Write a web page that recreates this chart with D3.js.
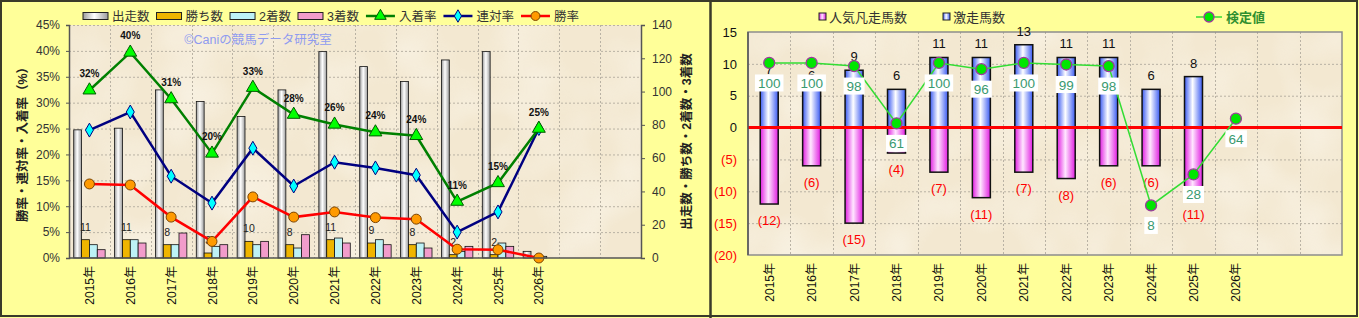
<!DOCTYPE html>
<html>
<head>
<meta charset="utf-8">
<title>Cani 競馬データ</title>
<script src="https://cdn.jsdelivr.net/npm/d3@7"></script>
<style>
  body { margin: 0; background: #fff; overflow: hidden; }
  svg text { font-family: "Liberation Sans", "Noto Sans CJK JP", sans-serif; }
  .grid line { stroke: #b9b2a4; stroke-width: 1; stroke-dasharray: 2,2; }
  .tick-l { font-size: 12px; fill: #333; }
  .xlab { font-size: 12px; fill: #111; }
</style>
</head>
<body>
<div id="chart"></div>
<script>
// ---- data ----
var years = ["2015年","2016年","2017年","2018年","2019年","2020年","2021年","2022年","2023年","2024年","2025年","2026年"];
var nSlots = 14; // the axis keeps two empty categories after 2026

// left chart: counts (right axis)
var starts  = [77, 78, 101, 94, 85, 101, 124, 115, 106, 119, 124, 4];
var wins    = [11, 11, 8, 3, 10, 8, 11, 9, 8, 2, 2, 0];
var seconds = [8, 11, 8, 7, 8, 6, 12, 11, 9, 4, 9, 1];
var thirds  = [5, 9, 15, 8, 10, 14, 9, 8, 6, 7, 7, 0];
// left chart: rates % (left axis)
var placeRate = [32.4, 39.7, 30.7, 20.2, 32.9, 27.7, 25.8, 24.3, 23.6, 10.9, 14.5, 25.0];
var rentaiRate = [24.7, 28.2, 15.8, 10.6, 21.2, 13.9, 18.5, 17.4, 16.0, 5.0, 8.9, 25.0];
var winRate = [14.3, 14.1, 7.9, 3.2, 11.8, 7.9, 8.9, 7.8, 7.5, 1.7, 1.6, 0];
var pctTicks = [0, 5, 10, 15, 20, 25, 30, 35, 40, 45];
var cntTicks = [0, 20, 40, 60, 80, 100, 120, 140];

// right chart
var gekiso = [7, 6, 9, 6, 11, 11, 13, 11, 11, 6, 8, null];
var bonso  = [12, 6, 15, 4, 7, 11, 7, 8, 6, 6, 11, null];
var kentei = [100, 100, 98, 61, 100, 96, 100, 99, 98, 8, 28, 64];
var rTicks = [-20, -15, -10, -5, 0, 5, 10, 15];

var W = 1359, H = 318;
var svg = d3.select("#chart").append("svg").attr("width", W).attr("height", H);
var defs = svg.append("defs");

function hGrad(id, edge, mid) {
  var g = defs.append("linearGradient").attr("id", id).attr("x1", 0).attr("x2", 1).attr("y1", 0).attr("y2", 0);
  g.append("stop").attr("offset", "0%").attr("stop-color", edge);
  g.append("stop").attr("offset", "45%").attr("stop-color", mid);
  g.append("stop").attr("offset", "100%").attr("stop-color", edge);
}
hGrad("gStart", "#9c9c9c", "#ffffff");
hGrad("gBlue", "#3a5af2", "#ffffff");
hGrad("gPink", "#e11ee1", "#ffe6ff");

// parchment texture
var f = defs.append("filter").attr("id", "paper").attr("x", 0).attr("y", 0).attr("width", "100%").attr("height", "100%");
f.append("feTurbulence").attr("type", "fractalNoise").attr("baseFrequency", "0.018").attr("numOctaves", 2).attr("seed", 4);
f.append("feColorMatrix").attr("values", "0 0 0 0 1  0 0 0 0 0.99  0 0 0 0 0.95  1.4 0 0 0 -0.55");

// panels
svg.append("rect").attr("x", 0).attr("y", 0).attr("width", W).attr("height", H).attr("fill", "#ffff99");

function plotBg(x0, y0, x1, y1) {
  svg.append("rect").attr("x", x0).attr("y", y0).attr("width", x1 - x0).attr("height", y1 - y0).attr("fill", "#f3e8d1");
  svg.append("rect").attr("x", x0).attr("y", y0).attr("width", x1 - x0).attr("height", y1 - y0)
    .attr("filter", "url(#paper)").attr("opacity", 0.6);
}

// =============== LEFT CHART ===============
var L = {x0: 69, x1: 641, y0: 25, y1: 258};
plotBg(L.x0, L.y0, L.x1, L.y1);

var xL = d3.scaleBand().domain(d3.range(nSlots)).range([L.x0, L.x1]);
var xSub = d3.scaleBand().domain(["s", "w", "2", "3"]).range([0, xL.bandwidth()]).paddingOuter(0.6);
var yPct = d3.scaleLinear().domain([0, 45]).range([L.y1, L.y0]);
var yCnt = d3.scaleLinear().domain([0, 140]).range([L.y1, L.y0]);

var gridL = svg.append("g").attr("class", "grid");
gridL.selectAll(".h").data(pctTicks.slice(1)).enter().append("line")
  .attr("x1", L.x0).attr("x2", L.x1).attr("y1", d => yPct(d) + 0.5).attr("y2", d => yPct(d) + 0.5);
gridL.selectAll(".v").data(d3.range(1, nSlots)).enter().append("line")
  .attr("y1", L.y0).attr("y2", L.y1).attr("x1", d => Math.round(xL(d)) + 0.5).attr("x2", d => Math.round(xL(d)) + 0.5);

// watermark
svg.append("text").attr("x", 258).attr("y", 44).attr("text-anchor", "middle")
  .style("font-size", "12.5px").attr("fill", "#8f9bf0").text("©Caniの競馬データ研究室");

// bars
var barSeries = [
  {key: "s", vals: starts, fill: "url(#gStart)"},
  {key: "w", vals: wins, fill: "#efb500"},
  {key: "2", vals: seconds, fill: "#bdf2f6"},
  {key: "3", vals: thirds, fill: "#f29ccb"}
];
barSeries.forEach(function (s) {
  svg.append("g").selectAll("rect").data(s.vals).enter().append("rect")
    .attr("x", (d, i) => xL(i) + xSub(s.key))
    .attr("width", xSub.bandwidth())
    .attr("y", d => yCnt(d))
    .attr("height", d => yCnt(0) - yCnt(d))
    .attr("fill", s.fill).attr("stroke", "#111").attr("stroke-width", 0.8);
});
// wins labels
svg.append("g").selectAll("text").data(wins).enter().append("text")
  .attr("x", (d, i) => xL(i) + xSub("w") + xSub.bandwidth() / 2)
  .attr("y", d => yCnt(d) - 9)
  .attr("text-anchor", "middle").style("font-size", "10.5px").attr("fill", "#222")
  .text(d => d > 0 ? d : "");

// lines
var cx = i => xL(i) + xL.bandwidth() / 2;
var lineSeries = [
  {vals: winRate, color: "#ff0000", sym: d3.symbolCircle, size: 78, fill: "#ff9a00", stroke: "#7a4300"},
  {vals: rentaiRate, color: "#000080", sym: d3.symbolDiamond, size: 56, fill: "#00ffff", stroke: "#000080"},
  {vals: placeRate, color: "#008000", sym: d3.symbolTriangle, size: 72, fill: "#00ff00", stroke: "#005a00"}
];
lineSeries.forEach(function (s) {
  var line = d3.line().x((d, i) => cx(i)).y(d => yPct(d));
  svg.append("path").datum(s.vals).attr("d", line).attr("fill", "none")
    .attr("stroke", s.color).attr("stroke-width", 2.5);
});
lineSeries.forEach(function (s) {
  svg.append("g").selectAll("path").data(s.vals).enter().append("path")
    .attr("d", d3.symbol().type(s.sym).size(s.size))
    .attr("transform", (d, i) => "translate(" + cx(i) + "," + yPct(d) + ")")
    .attr("fill", s.fill).attr("stroke", s.stroke).attr("stroke-width", 1);
});
svg.append("g").selectAll("text").data(placeRate).enter().append("text")
  .attr("x", (d, i) => cx(i)).attr("y", d => yPct(d) - 13)
  .attr("text-anchor", "middle").style("font-size", "10px").style("font-weight", "bold").attr("fill", "#111")
  .text(d => d3.format(".0f")(d) + "%");

// axes
var axL = svg.append("g").attr("transform", "translate(" + L.x0 + ",0)")
  .call(d3.axisLeft(yPct).tickValues(pctTicks).tickSize(3).tickFormat(d => d + "%"));
axL.select(".domain").attr("stroke", "#555").attr("stroke-width", 1.5);
axL.selectAll(".tick line").attr("stroke", "#555");
axL.selectAll("text").attr("class", "tick-l").attr("x", -9);

var axR = svg.append("g").attr("transform", "translate(" + L.x1 + ",0)")
  .call(d3.axisRight(yCnt).tickValues(cntTicks).tickSize(4));
axR.select(".domain").attr("stroke", "#555").attr("stroke-width", 1.5);
axR.selectAll(".tick line").attr("stroke", "#555");
axR.selectAll("text").attr("class", "tick-l").attr("x", 11);

svg.append("line").attr("x1", L.x0).attr("x2", L.x1).attr("y1", L.y1).attr("y2", L.y1)
  .attr("stroke", "#555").attr("stroke-width", 1.5);

svg.append("g").selectAll("text").data(years).enter().append("text")
  .attr("class", "xlab").attr("text-anchor", "end")
  .attr("transform", (d, i) => "translate(" + (cx(i) + 4.5) + "," + (L.y1 + 8) + ") rotate(-90)")
  .text(d => d);

svg.append("text").attr("text-anchor", "middle")
  .attr("transform", "translate(27," + ((L.y0 + L.y1) / 2) + ") rotate(-90)")
  .style("font-size", "12.5px").style("font-weight", "bold").attr("fill", "#222")
  .text("勝率・連対率・入着率（%）");
svg.append("text").attr("text-anchor", "middle")
  .attr("transform", "translate(691," + ((L.y0 + L.y1) / 2) + ") rotate(-90)")
  .style("font-size", "12.5px").style("font-weight", "bold").attr("fill", "#222")
  .text("出走数・勝ち数・2着数・3着数");

// legend
var legItems = [
  {label: "出走数", type: "bar", fill: "url(#gStart)"},
  {label: "勝ち数", type: "bar", fill: "#efb500"},
  {label: "2着数", type: "bar", fill: "#bdf2f6"},
  {label: "3着数", type: "bar", fill: "#f29ccb"},
  {label: "入着率", type: "line", s: lineSeries[2]},
  {label: "連対率", type: "line", s: lineSeries[1]},
  {label: "勝率", type: "line", s: lineSeries[0]}
];
var lx = 83, ly = 16;
legItems.forEach(function (it) {
  var w;
  if (it.type === "bar") {
    w = 25;
    svg.append("rect").attr("x", lx).attr("y", ly - 3.5).attr("width", w).attr("height", 7)
      .attr("fill", it.fill).attr("stroke", "#222").attr("stroke-width", 1);
  } else {
    w = 29;
    svg.append("line").attr("x1", lx).attr("x2", lx + w).attr("y1", ly).attr("y2", ly)
      .attr("stroke", it.s.color).attr("stroke-width", 2.5);
    svg.append("path").attr("d", d3.symbol().type(it.s.sym).size(it.s.size * 0.8))
      .attr("transform", "translate(" + (lx + w / 2) + "," + ly + ")")
      .attr("fill", it.s.fill).attr("stroke", it.s.stroke);
  }
  var t = svg.append("text").attr("x", lx + w + 4).attr("y", ly + 4.5)
    .style("font-size", "12.5px").attr("fill", "#333").text(it.label);
  lx += w + 4 + t.node().getComputedTextLength() + 7;
});

// =============== RIGHT CHART ===============
var R = {x0: 748, x1: 1342, y0: 32, y1: 255};
plotBg(R.x0, R.y0, R.x1, R.y1);

var xR = d3.scaleBand().domain(d3.range(nSlots)).range([R.x0, R.x1]);
var yN = d3.scaleLinear().domain([-20, 15]).range([R.y1, R.y0]);
var yK = d3.scaleLinear().domain([-24, 120]).range([R.y1, R.y0]);
var cxR = i => xR(i) + xR.bandwidth() / 2;
var bw = 18;

var gridR = svg.append("g").attr("class", "grid");
gridR.selectAll(".h").data(rTicks.filter(d => d > -20 && d < 15)).enter().append("line")
  .attr("x1", R.x0).attr("x2", R.x1).attr("y1", d => yN(d) + 0.5).attr("y2", d => yN(d) + 0.5);
gridR.selectAll(".v").data(d3.range(1, nSlots)).enter().append("line")
  .attr("y1", R.y0).attr("y2", R.y1).attr("x1", d => Math.round(xR(d)) + 0.5).attr("x2", d => Math.round(xR(d)) + 0.5);

svg.append("rect").attr("x", R.x0).attr("y", R.y0).attr("width", R.x1 - R.x0).attr("height", R.y1 - R.y0)
  .attr("fill", "none").attr("stroke", "#8d8d8d").attr("stroke-width", 1.5);

var gekisoPts = gekiso.map((v, i) => ({i: i, v: v})).filter(d => d.v != null);
var bonsoPts = bonso.map((v, i) => ({i: i, v: v})).filter(d => d.v != null);

svg.append("g").selectAll("rect").data(bonsoPts).enter().append("rect")
  .attr("x", d => cxR(d.i) - bw / 2).attr("width", bw)
  .attr("y", yN(0)).attr("height", d => yN(-d.v) - yN(0))
  .attr("fill", "url(#gPink)").attr("stroke", "#111").attr("stroke-width", 1.5);
svg.append("g").selectAll("rect").data(gekisoPts).enter().append("rect")
  .attr("x", d => cxR(d.i) - bw / 2).attr("width", bw)
  .attr("y", d => yN(d.v)).attr("height", d => yN(0) - yN(d.v))
  .attr("fill", "url(#gBlue)").attr("stroke", "#111").attr("stroke-width", 1.5);

svg.append("g").selectAll("text").data(gekisoPts).enter().append("text")
  .attr("x", d => cxR(d.i)).attr("y", d => yN(d.v) - 9).attr("text-anchor", "middle")
  .style("font-size", "13px").attr("fill", "#111").text(d => d.v);
svg.append("g").selectAll("text").data(bonsoPts).enter().append("text")
  .attr("x", d => cxR(d.i)).attr("y", d => yN(-d.v) + 21).attr("text-anchor", "middle")
  .style("font-size", "13px").attr("fill", "#ff0000").text(d => "(" + d.v + ")");

// zero line
svg.append("line").attr("x1", R.x0).attr("x2", R.x1).attr("y1", yN(0)).attr("y2", yN(0))
  .attr("stroke", "#ff0000").attr("stroke-width", 3);

// kentei line
svg.append("path").datum(kentei)
  .attr("d", d3.line().x((d, i) => cxR(i)).y(d => yK(d)))
  .attr("fill", "none").attr("stroke", "#33dd33").attr("stroke-width", 1.5);
svg.append("g").selectAll("circle").data(kentei).enter().append("circle")
  .attr("cx", (d, i) => cxR(i)).attr("cy", d => yK(d)).attr("r", 5.5)
  .attr("fill", "#00e600").attr("stroke", "#9b3c9b").attr("stroke-width", 1.3);

var kl = svg.append("g").selectAll("g").data(kentei).enter().append("g")
  .attr("transform", (d, i) => "translate(" + cxR(i) + "," + (yK(d) + 20) + ")");
kl.append("text").attr("text-anchor", "middle").attr("y", 5)
  .style("font-size", "13.5px").attr("fill", "#3a9a70").text(d => d)
  .each(function () {
    var b = this.getBBox();
    d3.select(this.parentNode).insert("rect", "text")
      .attr("x", b.x - 3).attr("y", -8.5).attr("width", b.width + 6).attr("height", 17)
      .attr("fill", "#fff");
  });

// right y axis labels
var axN = svg.append("g").attr("transform", "translate(" + R.x0 + ",0)")
  .call(d3.axisLeft(yN).tickValues(rTicks).tickSize(0)
    .tickFormat(d => d < 0 ? "(" + (-d) + ")" : d));
axN.select(".domain").remove();
axN.selectAll("text").attr("x", -11).style("font-size", "13px")
  .attr("fill", d => d < 0 ? "#ff0000" : "#111");
svg.append("line").attr("x1", R.x0).attr("x2", R.x0).attr("y1", R.y0).attr("y2", R.y1)
  .attr("stroke", "#555").attr("stroke-width", 1.5);

svg.append("g").selectAll("text").data(years).enter().append("text")
  .attr("class", "xlab").attr("text-anchor", "end")
  .attr("transform", (d, i) => "translate(" + (cxR(i) + 4.5) + "," + (R.y1 + 8) + ") rotate(-90)")
  .text(d => d);

// right legend
var rLeg = [
  {label: "人気凡走馬数", fill: "url(#gPink)", x: 819},
  {label: "激走馬数", fill: "url(#gBlue)", x: 943}
];
rLeg.forEach(function (it) {
  svg.append("rect").attr("x", it.x).attr("y", 13).attr("width", 7).attr("height", 7)
    .attr("fill", it.fill).attr("stroke", "#222").attr("stroke-width", 1);
  svg.append("text").attr("x", it.x + 10).attr("y", 21.5).style("font-size", "13px")
    .attr("fill", "#333").text(it.label);
});
svg.append("line").attr("x1", 1196).attr("x2", 1222).attr("y1", 17).attr("y2", 17)
  .attr("stroke", "#33dd33").attr("stroke-width", 1.5);
svg.append("circle").attr("cx", 1209).attr("cy", 17).attr("r", 5)
  .attr("fill", "#00e600").attr("stroke", "#9b3c9b").attr("stroke-width", 1.3);
svg.append("text").attr("x", 1226).attr("y", 22).style("font-size", "13px").style("font-weight", "bold")
  .attr("fill", "#2f8f2f").text("検定値");

// frame
svg.append("rect").attr("x", 1).attr("y", 1).attr("width", W - 3).attr("height", H - 3)
  .attr("fill", "none").attr("stroke", "#3a3a2a").attr("stroke-width", 2);
svg.append("line").attr("x1", 710.5).attr("x2", 710.5).attr("y1", 0).attr("y2", H)
  .attr("stroke", "#3a3a2a").attr("stroke-width", 2.5);
</script>
</body>
</html>
